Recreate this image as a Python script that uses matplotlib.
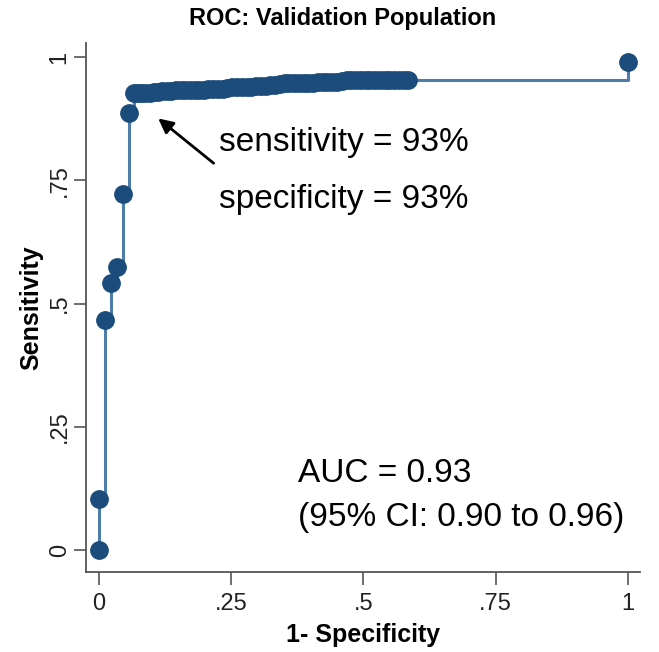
import matplotlib.pyplot as plt

plt.rcParams['font.family'] = ['Liberation Sans', 'DejaVu Sans']

# ROC points (1 - specificity, sensitivity)
fpr_start = [0.0, 0.0, 0.011, 0.023, 0.035, 0.045, 0.057]
tpr_start = [0.0, 0.104, 0.466, 0.541, 0.574, 0.723, 0.886]

fpr_band = [0.066, 0.073, 0.080, 0.088, 0.096, 0.104, 0.112,
            0.120, 0.129, 0.137, 0.146, 0.155, 0.163, 0.172, 0.181, 0.190,
            0.198, 0.207, 0.216, 0.225, 0.234,
            0.243, 0.252, 0.261, 0.270, 0.279, 0.288, 0.297, 0.306, 0.315,
            0.324, 0.333,
            0.342, 0.351, 0.360, 0.369, 0.378, 0.387, 0.396, 0.405, 0.414,
            0.423, 0.432, 0.441, 0.450,
            0.459, 0.468, 0.477, 0.486, 0.495, 0.504, 0.513, 0.522, 0.531,
            0.540, 0.549, 0.558, 0.567, 0.576, 0.585]
tpr_band = [0.927, 0.927, 0.927, 0.928, 0.928, 0.929, 0.929,
            0.931, 0.932, 0.932, 0.933, 0.933, 0.933, 0.934, 0.934, 0.934,
            0.934, 0.935, 0.935, 0.935, 0.936,
            0.938, 0.939, 0.939, 0.939, 0.940, 0.940, 0.941, 0.941, 0.942,
            0.943, 0.944,
            0.946, 0.947, 0.947, 0.947, 0.948, 0.948, 0.948, 0.948, 0.949,
            0.949, 0.949, 0.949, 0.950,
            0.952, 0.953, 0.953, 0.953, 0.953, 0.953, 0.953, 0.953, 0.953,
            0.953, 0.953, 0.953, 0.953, 0.953, 0.953]

fpr_end = [1.0]
tpr_end = [0.99]

fpr = fpr_start + fpr_band + fpr_end
tpr = tpr_start + tpr_band + tpr_end

xticks = [0, 0.25, 0.5, 0.75, 1]
xtick_labels = ['0', '.25', '.5', '.75', '1']

fig = plt.figure(figsize=(6.59, 6.52), dpi=100)
ax = fig.add_axes([0.1305, 0.1227, 0.8405, 0.8113])

line_color = '#4f7dab'
marker_color = '#1b4c7b'

ax.plot(fpr, tpr, drawstyle='steps-post', color=line_color, lw=2.2, zorder=2)
ax.plot(fpr, tpr, ls='none', marker='o', ms=12.5, color=marker_color,
        mec=marker_color, zorder=3)

ax.set_xlim(-0.0244, 1.0225)
ax.set_ylim(-0.0446, 1.0284)

ax.set_xticks(xticks)
ax.set_xticklabels(xtick_labels)
ax.set_yticks(xticks)
ax.set_yticklabels(xtick_labels, rotation=90, va='center')
ax.tick_params(axis='both', length=9, width=1.2, color='#555555',
               labelsize=17, labelcolor='#222222', pad=6)
ax.tick_params(axis='y', pad=2)

for side in ['top', 'right']:
    ax.spines[side].set_visible(False)
for side in ['left', 'bottom']:
    ax.spines[side].set_color('#555555')
    ax.spines[side].set_linewidth(1.3)

ax.set_xlabel('1- Specificity', fontsize=18, fontweight='bold', labelpad=6)
ax.set_ylabel('Sensitivity', fontsize=18, fontweight='bold', labelpad=4)
fig.text(0.52, 0.972, 'ROC: Validation Population', fontsize=17,
         fontweight='bold', ha='center', va='center')

ax.annotate('', xy=(0.108, 0.879), xytext=(0.221, 0.781),
            arrowprops=dict(arrowstyle='-|>', color='black', lw=2,
                            mutation_scale=22))
ax.text(0.227, 0.826, 'sensitivity = 93%', fontsize=24, va='center')
ax.text(0.227, 0.710, 'specificity = 93%', fontsize=24, va='center')
ax.text(0.377, 0.156, 'AUC = 0.93', fontsize=24, va='center')
ax.text(0.377, 0.065, '(95% CI: 0.90 to 0.96)', fontsize=24, va='center')

plt.savefig('out.png', dpi=100)
